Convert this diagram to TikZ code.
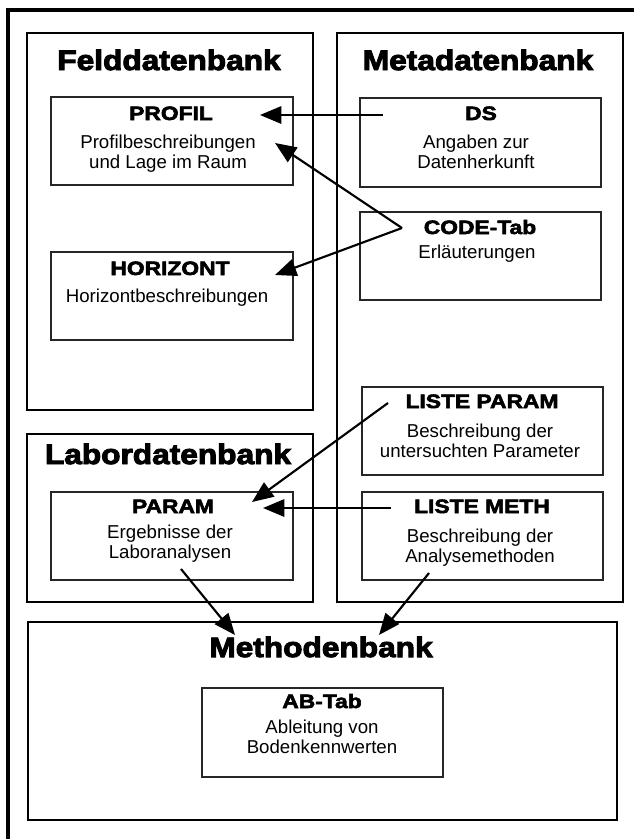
\documentclass[tikz,border=0pt]{standalone}
\usepackage{fontspec}
\setmainfont{Liberation Sans}
\newfontfamily\bankfont[FakeBold=3.5,FakeStretch=1.13]{Liberation Sans Bold}
\newfontfamily\tabfont[FakeBold=3,FakeStretch=1.18]{Liberation Sans Bold}
\usepackage{tikz}
\usetikzlibrary{positioning}
\usetikzlibrary{fit,arrows.meta}

\begin{document}
\begin{tikzpicture}[x=0.75pt, y=-0.75pt,
	bank/.style={draw, line width=2pt, inner sep=0pt},
	tabbox/.style={draw=black!85, line width=0.8pt, inner sep=0pt},
	banktitle/.style={anchor=base, inner sep=0pt, font=\bankfont\fontsize{21}{24}\selectfont},
	tabtitle/.style={anchor=base, inner sep=0pt, font=\tabfont\fontsize{14.5}{16}\selectfont},
	tabtext/.style={anchor=north, inner sep=0pt, align=center, font=\fontsize{14}{15.5}\selectfont},
	link/.style={line width=1.6pt, -{Triangle[length=16pt,width=13pt]}}
	]

	% page size of the reference
	\useasboundingbox (0,0) rectangle (634,839);

	% outer frame, cut at the right and bottom edge
	\draw[line width=3pt] (8,845) -- (8,10) -- (640,10);

	%%%%%%%%%%%%%%%%%%%%%%%%%%%%%%%%%%%%%%%%%%%%%%%%%%%%%%%%%%%%%%
	% the four banks
	\node[bank, fit={(27,33) (313,410)}] (feld) {};
	\node[bank, fit={(337,33) (623,602)}] (meta) {};
	\node[bank, fit={(27,434) (313,602)}] (labor) {};
	\node[bank, fit={(28,622) (617,820)}] (methoden) {};

	\node[banktitle] (feldT) at (169,70) {Felddatenbank};
	\node[banktitle] (metaT) at (478,70) {Metadatenbank};
	\node[banktitle] (laborT) at (168,464) {Labordatenbank};
	\node[banktitle] (methodenT) at (321,657) {Methodenbank};

	%%%%%%%%%%%%%%%%%%%%%%%%%%%%%%%%%%%%%%%%%%%%%%%%%%%%%%%%%%%%%%
	% tables inside the banks
	\node[tabbox, fit={(51,97) (293,185)}] (profil) {};
	\node[tabbox, fit={(51,252) (293,340)}] (horizont) {};
	\node[tabbox, fit={(360,98) (601,187)}] (ds) {};
	\node[tabbox, fit={(360,212) (601,300)}] (code) {};
	\node[tabbox, fit={(362,387) (603,475)}] (lparam) {};
	\node[tabbox, fit={(362,492) (603,580)}] (lmeth) {};
	\node[tabbox, fit={(51,492) (293,580)}] (param) {};
	\node[tabbox, fit={(202,688) (443,777)}] (abtab) {};

	\node[tabtitle] (profilT) at (171,120) {PROFIL};
	\node[tabtext] (profilD) at (168,134.5) {Profilbeschreibungen\\und Lage im Raum};

	\node[tabtitle] (horizontT) at (170,275) {HORIZONT};
	\node[tabtext] (horizontD) at (167,288.5) {Horizontbeschreibungen};

	\node[tabtitle] (dsT) at (481,120) {DS};
	\node[tabtext] (dsD) at (476,134.5) {Angaben zur\\Datenherkunft};

	\node[tabtitle] (codeT) at (480,234) {CODE-Tab};
	\node[tabtext] (codeD) at (477,244.5) {Erläuterungen};

	\node[tabtitle] (lparamT) at (482,408) {LISTE PARAM};
	\node[tabtext] (lparamD) at (480,423.5) {Beschreibung der\\untersuchten Parameter};

	\node[tabtitle] (lmethT) at (482,513) {LISTE METH};
	\node[tabtext] (lmethD) at (480,528.5) {Beschreibung der\\Analysemethoden};

	\node[tabtitle] (paramT) at (173,513) {PARAM};
	\node[tabtext] (paramD) at (170,524.5) {Ergebnisse der\\Laboranalysen};

	\node[tabtitle] (abtabT) at (322,708) {AB-Tab};
	\node[tabtext] (abtabD) at (322,719.5) {Ableitung von\\Bodenkennwerten};

	%%%%%%%%%%%%%%%%%%%%%%%%%%%%%%%%%%%%%%%%%%%%%%%%%%%%%%%%%%%%%%
	% ends of the links
	\coordinate (dsOut) at (383,115);
	\coordinate (profilIn) at (260,115);
	\coordinate (codeOut) at (402,228);
	\coordinate (profilIn2) at (275,143);
	\coordinate (horizontIn) at (275,275);
	\coordinate (lparamOut) at (388,403);
	\coordinate (paramIn) at (252,502);
	\coordinate (lmethOut) at (391,508);
	\coordinate (paramIn2) at (263,508);
	\coordinate (paramOut) at (181,569);
	\coordinate (methodenIn) at (235,635);
	\coordinate (lmethOut2) at (429,573);
	\coordinate (methodenIn2) at (379,635);

	\draw[link] (dsOut) -- (profilIn);
	\draw[link] (codeOut) -- (profilIn2);
	\draw[link] (codeOut) -- (horizontIn);
	\draw[link] (lparamOut) -- (paramIn);
	\draw[link] (lmethOut) -- (paramIn2);
	\draw[link] (paramOut) -- (methodenIn);
	\draw[link] (lmethOut2) -- (methodenIn2);

\end{tikzpicture}
\end{document}
